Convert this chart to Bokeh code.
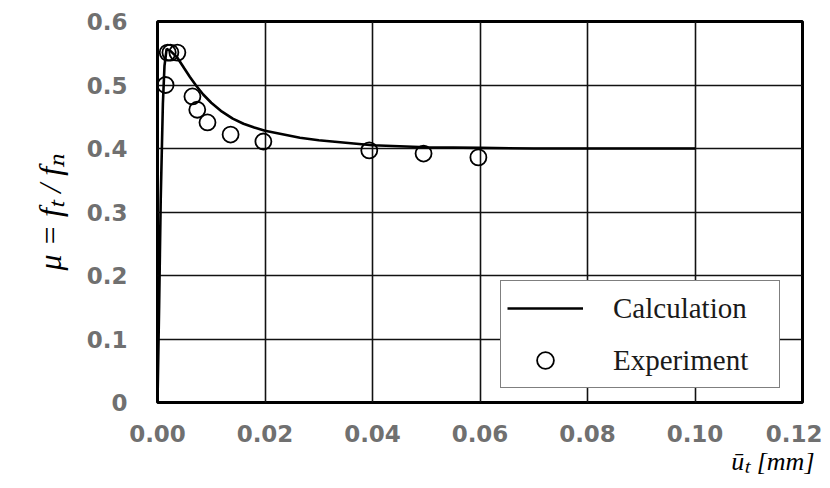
from bokeh.plotting import figure
from bokeh.models import Legend, LegendItem, FixedTicker, Title
from bokeh.embed import file_html
from bokeh.resources import INLINE

# Calculation curve
calc_x = [0, 0.0003, 0.0006, 0.001, 0.0013, 0.0017, 0.0025, 0.0037, 0.005, 0.006, 0.0071,
          0.0085, 0.010, 0.012, 0.014, 0.016, 0.018, 0.020, 0.0265, 0.030, 0.035, 0.040,
          0.050, 0.060, 0.070, 0.080, 0.090, 0.100]
calc_y = [0, 0.15, 0.32, 0.47, 0.53, 0.557, 0.553, 0.543, 0.526, 0.513, 0.500,
          0.485, 0.472, 0.458, 0.447, 0.439, 0.433, 0.428, 0.417, 0.413, 0.409, 0.405,
          0.402, 0.401, 0.400, 0.400, 0.400, 0.400]

# Experiment points
exp_x = [0.0015, 0.0019, 0.0024, 0.0037, 0.0065, 0.0074, 0.0093, 0.0136, 0.0197, 0.0394, 0.0495, 0.0597]
exp_y = [0.500, 0.551, 0.551, 0.551, 0.482, 0.461, 0.441, 0.422, 0.411, 0.397, 0.392, 0.386]

x_ticks = [0, 0.02, 0.04, 0.06, 0.08, 0.10, 0.12]
x_labels = ["0.00", "0.02", "0.04", "0.06", "0.08", "0.10", "0.12"]
y_ticks = [0, 0.1, 0.2, 0.3, 0.4, 0.5, 0.6]
y_labels = ["0", "0.1", "0.2", "0.3", "0.4", "0.5", "0.6"]

y_title = "μ = fₜ / fₙ"
x_title = "ūₜ [mm]"

SERIF = "Liberation Serif"
TITLE_SERIF = "serif"

p = figure(width=822, height=480, x_range=(0, 0.12), y_range=(0, 0.6),
           output_backend="svg", toolbar_location=None,
           min_border_left=157, min_border_right=20, min_border_top=21, min_border_bottom=78)

p.background_fill_color = "white"
p.border_fill_color = "white"
p.outline_line_color = "black"
p.outline_line_width = 3

for ax, ticks, labels in ((p.xaxis[0], x_ticks, x_labels), (p.yaxis[0], y_ticks, y_labels)):
    ax.ticker = FixedTicker(ticks=ticks)
    ax.major_label_overrides = {t: l for t, l in zip(ticks, labels)}
    ax.axis_line_color = None
    ax.major_tick_line_color = None
    ax.minor_tick_line_color = None
    ax.major_label_text_font = "DejaVu Sans"
    ax.major_label_text_font_style = "bold"
    ax.major_label_text_font_size = "23px"
    ax.major_label_text_color = "#707070"

p.xaxis.major_label_standoff = 16
p.yaxis.major_label_standoff = 24

p.yaxis.axis_label = y_title
p.yaxis.axis_label_text_font = TITLE_SERIF
p.yaxis.axis_label_text_font_style = "italic"
p.yaxis.axis_label_text_font_size = "32px"
p.yaxis.axis_label_text_color = "black"
p.yaxis.axis_label_standoff = 16

t = Title(text=x_title, align="right", text_font=TITLE_SERIF,
          text_font_style="italic", text_font_size="26px", text_color="black",
          offset=-12, standoff=0)
p.add_layout(t, "below")

for g in (p.xgrid[0], p.ygrid[0]):
    g.grid_line_color = "#111111"
    g.grid_line_width = 1.6
p.xgrid[0].ticker = FixedTicker(ticks=x_ticks)
p.ygrid[0].ticker = FixedTicker(ticks=y_ticks)

r_line = p.line(calc_x, calc_y, line_color="black", line_width=2.6)
r_pts = p.scatter(exp_x, exp_y, size=16, marker="circle", fill_alpha=0,
                  line_color="black", line_width=1.8)

legend = Legend(items=[LegendItem(label="Calculation", renderers=[r_line]),
                       LegendItem(label="Experiment", renderers=[r_pts])],
                location=(343, 14), glyph_width=76, glyph_height=42, label_height=42,
                label_width=160, spacing=10, padding=6, margin=0, label_standoff=30,
                label_text_font=SERIF, label_text_font_size="29px",
                label_text_color="#1a1a1a",
                border_line_color="black", border_line_width=1.5,
                background_fill_color="white", background_fill_alpha=1)
p.add_layout(legend, "center")

open("out.html", "w").write(file_html(p, INLINE))
